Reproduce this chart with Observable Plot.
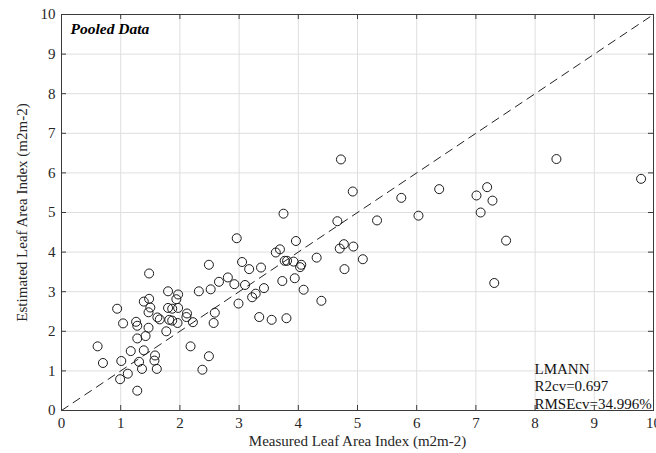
<!DOCTYPE html>
<html>
<head>
<meta charset="utf-8">
<script src="https://cdn.jsdelivr.net/npm/d3@7"></script>
<script src="https://cdn.jsdelivr.net/npm/@observablehq/plot@0.6"></script>
<style>
  html, body { margin: 0; padding: 0; background: #fff; }
  #chart svg { display: block; }
</style>
</head>
<body>
<div id="chart"></div>
<script>
// Measured vs estimated leaf area index (m2m-2)
const measured = [
  0.61, 0.70, 0.94, 0.99, 1.01, 1.04, 1.12, 1.17, 1.26, 1.28,
  1.28, 1.28, 1.31, 1.36, 1.39, 1.39, 1.42, 1.47, 1.47, 1.48,
  1.48, 1.50, 1.57, 1.58, 1.61, 1.62, 1.66, 1.77, 1.80, 1.80,
  1.87, 1.97, 1.82, 1.87, 1.96, 1.94, 1.97, 2.12, 2.11, 2.22,
  2.18, 2.32, 2.38, 2.49, 2.49, 2.52, 2.57, 2.59, 2.66, 2.81,
  2.92, 2.96, 2.99, 3.05, 3.10, 3.17, 3.22, 3.28, 3.34, 3.37,
  3.42, 3.55, 3.62, 3.69, 3.73, 3.75, 3.77, 3.81, 3.80, 3.92,
  3.94, 3.96, 4.03, 4.05, 4.09, 4.31, 4.39, 4.66, 4.70, 4.72,
  4.77, 4.78, 4.93, 4.92, 5.09, 5.33, 5.74, 6.03, 6.38, 7.01,
  7.08, 7.19, 7.28, 7.31, 7.51, 8.36, 9.79
];
const estimated = [
  1.62, 1.20, 2.57, 0.79, 1.25, 2.20, 0.93, 1.50, 2.24, 2.14,
  1.82, 0.50, 1.23, 1.05, 2.75, 1.52, 1.88, 2.09, 2.48, 2.82,
  3.46, 2.60, 1.26, 1.39, 1.05, 2.35, 2.30, 2.00, 3.01, 2.59,
  2.57, 2.59, 2.29, 2.27, 2.21, 2.81, 2.93, 2.45, 2.36, 2.23,
  1.62, 3.01, 1.03, 1.37, 3.68, 3.06, 2.21, 2.47, 3.25, 3.36,
  3.19, 4.35, 2.70, 3.75, 3.17, 3.57, 2.86, 2.95, 2.36, 3.61,
  3.09, 2.29, 3.99, 4.07, 3.27, 4.97, 3.78, 3.78, 2.33, 3.76,
  3.34, 4.28, 3.62, 3.68, 3.05, 3.86, 2.77, 4.78, 4.09, 6.34,
  4.20, 3.57, 4.14, 5.53, 3.82, 4.80, 5.37, 4.92, 5.59, 5.43,
  5.00, 5.64, 5.30, 3.22, 4.29, 6.35, 5.85
];
const xTicks = [0, 1, 2, 3, 4, 5, 6, 7, 8, 9, 10];
const yTicks = [0, 1, 2, 3, 4, 5, 6, 7, 8, 9, 10];
const oneToOne = [0, 10];
const xLabel = "Measured Leaf Area Index (m2m-2)";
const yLabel = "Estimated Leaf Area Index (m2m-2)";
const panelTitle = "Pooled Data";
const statLines = ["LMANN", "R2cv=0.697", "RMSEcv=34.996%"];

const points = measured.map((m, i) => ({measured: m, estimated: estimated[i]}));

const W = 656, H = 453;
const mT = 14, mB = 43, mL = 61, mR = 3;
const innerH = H - mT - mB, innerW = W - mL - mR;
const tickLen = 5;
const axisColor = "#3a3a3a";

const chart = Plot.plot({
  width: W,
  height: H,
  marginTop: mT,
  marginBottom: mB,
  marginLeft: mL,
  marginRight: mR,
  style: {fontFamily: "'Liberation Serif', 'Times New Roman', serif", fontSize: "15px", color: "#262626", background: "#fff"},
  x: {domain: [0, 10], ticks: xTicks},
  y: {domain: [0, 10], ticks: yTicks},
  marks: [
    Plot.gridX(xTicks, {stroke: "#dedede", strokeOpacity: 1, strokeWidth: 1}),
    Plot.gridY(yTicks, {stroke: "#dedede", strokeOpacity: 1, strokeWidth: 1}),
    // inward tick marks on all four sides
    Plot.ruleX(xTicks, {x: d => d, insetTop: innerH - tickLen, stroke: axisColor}),
    Plot.ruleX(xTicks, {x: d => d, insetBottom: innerH - tickLen, stroke: axisColor}),
    Plot.ruleY(yTicks, {y: d => d, insetRight: innerW - tickLen, stroke: axisColor}),
    Plot.ruleY(yTicks, {y: d => d, insetLeft: innerW - tickLen, stroke: axisColor}),
    Plot.axisX(xTicks, {tickSize: 0, tickPadding: 7, label: xLabel, labelAnchor: "center", labelOffset: 35, labelArrow: "none", fontSize: 15}),
    Plot.axisY(yTicks, {tickSize: 0, tickPadding: 6, label: yLabel, labelAnchor: "center", labelOffset: 45, labelArrow: "none", fontSize: 15}),
    Plot.line(oneToOne, {x: d => d, y: d => d, stroke: "#222", strokeWidth: 1, strokeDasharray: "8,6"}),
    Plot.dot(points, {x: "measured", y: "estimated", r: 4.5, stroke: "#1a1a1a", strokeWidth: 1, fill: "none"}),
    Plot.frame({stroke: axisColor, strokeWidth: 1}),
    Plot.text([panelTitle], {text: d => d, frameAnchor: "top-left", textAnchor: "start", lineAnchor: "top", dx: 9, dy: 8, fontSize: 15.5, fontWeight: "bold", fontStyle: "italic", fill: "#000"}),
    Plot.text([statLines.join("\n")], {text: d => d, frameAnchor: "bottom-right", textAnchor: "start", lineAnchor: "bottom", dx: -119, dy: -2, lineHeight: 1.15, fontSize: 15, fill: "#111"})
  ]
});
document.getElementById("chart").appendChild(chart);
</script>
</body>
</html>
